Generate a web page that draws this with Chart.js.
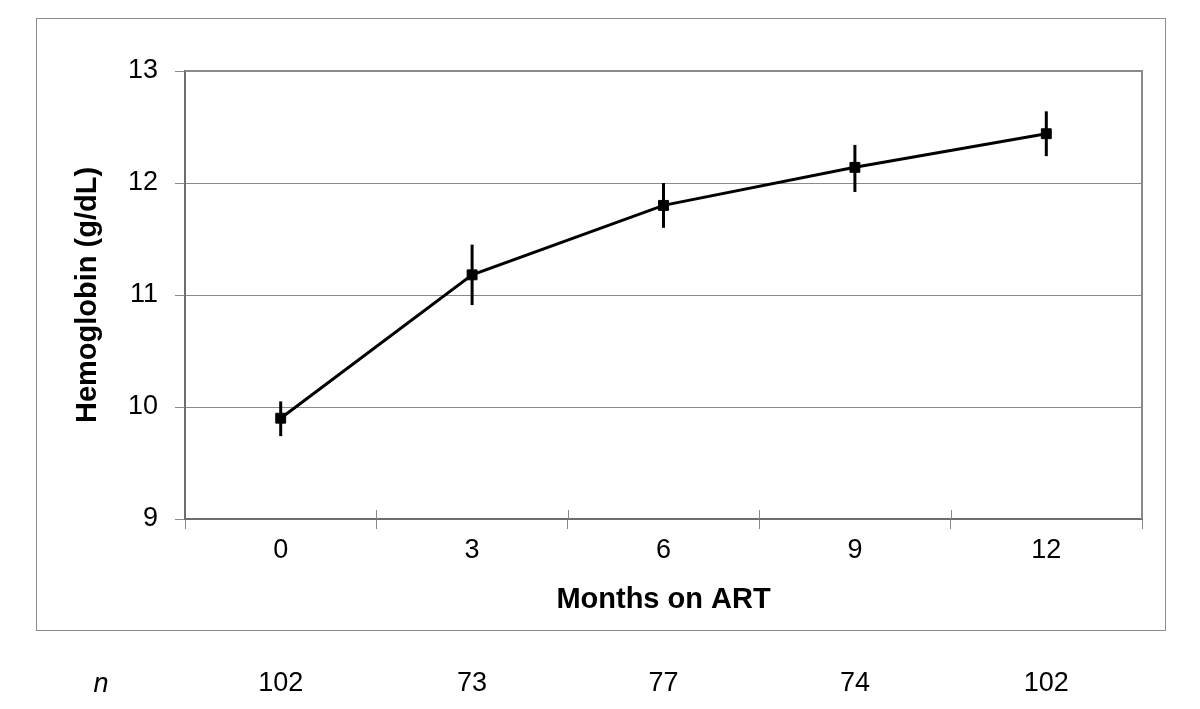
<!DOCTYPE html>
<html>
<head>
<meta charset="utf-8">
<title>Hemoglobin on ART</title>
<script src="https://cdn.jsdelivr.net/npm/chart.js@4.4.1/dist/chart.umd.min.js"></script>
<style>
  html, body { margin: 0; padding: 0; background: #ffffff; }
  #wrap { width: 1200px; height: 709px; }
</style>
</head>
<body>
<div id="wrap"><canvas id="hbChart" width="1200" height="709"></canvas></div>
<script>
// Chart data
const months = ['0', '3', '6', '9', '12'];
const hemoglobin = [9.90, 11.18, 11.80, 12.14, 12.44];
const errLow = [9.74, 10.91, 11.60, 11.92, 12.24];
const errHigh = [10.05, 11.45, 12.00, 12.34, 12.64];
const nValues = [102, 73, 77, 74, 102];
const yMin = 9;
const yMax = 13;
const yStep = 1;

const FONT = "'Liberation Sans', Arial, sans-serif";
const GRID_GRAY = '#8a8a8a';
const AXIS_GRAY = '#6e6e6e';

// Error bars, frame, crossing ticks and the n row
const extrasPlugin = {
  id: 'extras',
  beforeDraw(chart) {
    const ctx = chart.ctx;
    ctx.save();
    ctx.fillStyle = '#ffffff';
    ctx.fillRect(0, 0, chart.width, chart.height);
    // outer border box
    ctx.strokeStyle = '#8c8c8c';
    ctx.lineWidth = 1;
    ctx.strokeRect(36.5, 18.5, 1129, 612);
    ctx.restore();
  },
  afterDatasetsDraw(chart) {
    const ctx = chart.ctx;
    const x = chart.scales.x;
    const y = chart.scales.y;
    const area = chart.chartArea;
    ctx.save();

    // top and right edges of the plot area
    ctx.strokeStyle = GRID_GRAY;
    ctx.lineWidth = 2;
    ctx.beginPath();
    ctx.moveTo(area.left, area.top);
    ctx.lineTo(area.right, area.top);
    ctx.lineTo(area.right, area.bottom);
    ctx.stroke();

    // x tick marks cross the axis line
    ctx.lineWidth = 1;
    ctx.strokeStyle = GRID_GRAY;
    for (let i = 1; i < months.length; i++) {
      const px = Math.round((x.getPixelForValue(i - 1) + x.getPixelForValue(i)) / 2) + 0.5;
      ctx.beginPath();
      ctx.moveTo(px, area.bottom - 9);
      ctx.lineTo(px, area.bottom);
      ctx.stroke();
    }

    // error bars
    ctx.strokeStyle = '#000000';
    ctx.lineWidth = 3;
    hemoglobin.forEach((v, i) => {
      const px = x.getPixelForValue(i);
      ctx.beginPath();
      ctx.moveTo(px, y.getPixelForValue(errHigh[i]));
      ctx.lineTo(px, y.getPixelForValue(errLow[i]));
      ctx.stroke();
    });
    ctx.restore();
  },
  afterDraw(chart) {
    const ctx = chart.ctx;
    const x = chart.scales.x;
    ctx.save();
    ctx.fillStyle = '#000000';
    ctx.textBaseline = 'middle';
    ctx.textAlign = 'center';
    ctx.font = 'italic 27px ' + FONT;
    ctx.fillText('n', 101, 684);
    ctx.font = '27px ' + FONT;
    nValues.forEach((n, i) => {
      ctx.fillText(String(n), x.getPixelForValue(i), 684);
    });
    ctx.restore();
  }
};

const ctx = document.getElementById('hbChart');
new Chart(ctx, {
  type: 'line',
  data: {
    labels: months,
    datasets: [{
      label: 'Hemoglobin',
      data: hemoglobin,
      borderColor: '#000000',
      backgroundColor: '#000000',
      borderWidth: 3,
      pointStyle: 'rect',
      pointRadius: 7,
      pointBorderWidth: 1,
      pointBorderColor: '#000000',
      pointBackgroundColor: '#000000',
      tension: 0,
      fill: false
    }]
  },
  options: {
    responsive: false,
    animation: false,
    events: [],
    layout: {
      padding: { top: 71, right: 58, left: 0, bottom: 0 }
    },
    plugins: {
      legend: { display: false },
      tooltip: { enabled: false },
      title: { display: false }
    },
    scales: {
      x: {
        type: 'category',
        offset: true,
        afterFit(scale) { scale.height = 190; },
        grid: {
          offset: true,
          drawOnChartArea: false,
          drawTicks: true,
          tickLength: 10,
          tickColor: GRID_GRAY,
          color: GRID_GRAY,
          lineWidth: 1
        },
        border: { display: true, color: AXIS_GRAY, width: 2 },
        ticks: {
          color: '#000000',
          padding: 5,
          font: { family: FONT, size: 27 },
          maxRotation: 0
        },
        title: {
          display: true,
          text: 'Months on ART',
          color: '#000000',
          font: { family: FONT, size: 29, weight: 'bold' },
          padding: { top: 0, bottom: 92 }
        }
      },
      y: {
        min: yMin,
        max: yMax,
        afterFit(scale) { scale.width = 185; },
        grid: {
          drawOnChartArea: true,
          drawTicks: true,
          tickLength: 10,
          tickColor: GRID_GRAY,
          color: GRID_GRAY,
          lineWidth: 1
        },
        border: { display: true, color: AXIS_GRAY, width: 2 },
        ticks: {
          stepSize: yStep,
          color: '#000000',
          padding: 17,
          font: { family: FONT, size: 27 }
        },
        title: {
          display: true,
          text: 'Hemoglobin (g/dL)',
          color: '#000000',
          font: { family: FONT, size: 29, weight: 'bold' },
          padding: { top: 71, bottom: 0 }
        }
      }
    }
  },
  plugins: [extrasPlugin]
});
</script>
</body>
</html>
